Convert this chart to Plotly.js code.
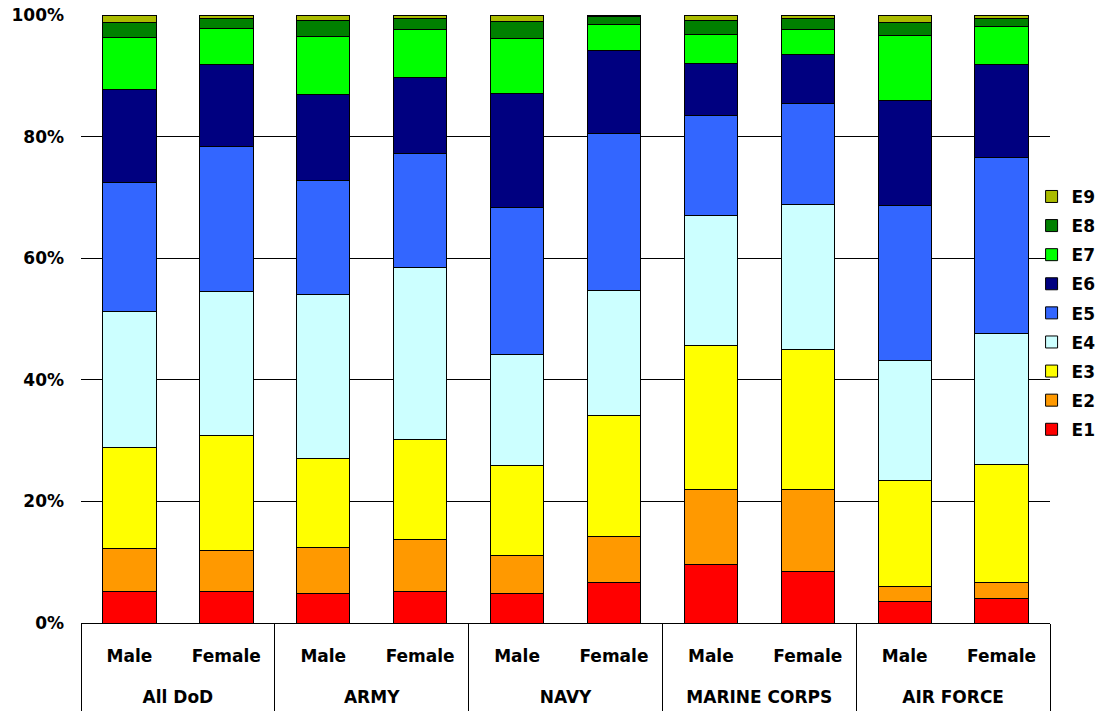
<!DOCTYPE html>
<html>
<head>
<meta charset="utf-8">
<script src="https://cdn.plot.ly/plotly-3.0.1.min.js"></script>
<style>html,body{margin:0;padding:0;background:#fff;}</style>
</head>
<body>
<div id="chart" style="width:1118px;height:711px;"></div>
<script>
// Categories
const groups = ["All DoD","All DoD","ARMY","ARMY","NAVY","NAVY","MARINE CORPS","MARINE CORPS","AIR FORCE","AIR FORCE"];
const sexes  = ["Male","Female","Male","Female","Male","Female","Male","Female","Male","Female"];
const seriesNames = ["E1","E2","E3","E4","E5","E6","E7","E8","E9"];
const yTickVals = [0,20,40,60,80,100];
const yTickText = ["0%","20%","40%","60%","80%","100%"];

// Percent of enlisted personnel by pay grade (order follows categories)
const E1 = [5.1, 5.1, 4.8, 5.1, 4.9, 6.7, 9.7, 8.5, 3.6, 4.0];
const E2 = [7.2, 6.8, 7.7, 8.7, 6.2, 7.6, 12.3, 13.5, 2.4, 2.6];
const E3 = [16.5, 18.9, 14.5, 16.3, 14.8, 19.8, 23.6, 23.0, 17.4, 19.5];
const E4 = [22.5, 23.7, 27.0, 28.4, 18.2, 20.6, 21.4, 23.9, 19.8, 21.5];
const E5 = [21.2, 23.9, 18.7, 18.8, 24.3, 25.8, 16.5, 16.6, 25.5, 29.0];
const E6 = [15.2, 13.4, 14.3, 12.5, 18.7, 13.6, 8.6, 8.0, 17.2, 15.2];
const E7 = [8.6, 6.0, 9.4, 7.8, 9.1, 4.4, 4.7, 4.1, 10.8, 6.3];
const E8 = [2.5, 1.6, 2.7, 1.9, 2.7, 1.2, 2.3, 1.8, 2.1, 1.3];
const E9 = [1.2, 0.6, 0.9, 0.5, 1.1, 0.3, 0.9, 0.6, 1.2, 0.6];

const seriesValues = [E1,E2,E3,E4,E5,E6,E7,E8,E9];
const colors = ["#FF0000","#FF9900","#FFFF00","#CCFFFF","#3366FF","#000080","#00FF00","#008000","#AABB00"];

const FONT = {family: "DejaVu Sans, Arial, sans-serif", size: 17, color: "#000", weight: "bold"};

// second-level labels carry leading line breaks to sit lower, as in the original
const groupLabels = groups.map(g => "<br><br>" + g);

const traces = seriesNames.map((n, i) => ({
  type: "bar",
  name: n,
  legendgroup: n,
  legendrank: 100 - i,
  x: [groupLabels, sexes],
  y: seriesValues[i],
  marker: {color: colors[i], line: {color: "#000", width: 1}},
  hoverinfo: "name+y"
}));

const layout = {
  width: 1118, height: 711,
  margin: {l: 81, r: 68, t: 15, b: 88},
  paper_bgcolor: "#fff", plot_bgcolor: "#fff",
  barmode: "stack",
  bargap: 0.45,
  font: FONT,
  showlegend: true,
  legend: {
    x: 0.981, xanchor: "left", y: 0.51, yanchor: "middle",
    traceorder: "grouped", tracegroupgap: 4,
    font: FONT, bgcolor: "rgba(0,0,0,0)", itemwidth: 30
  },
  xaxis: {
    type: "multicategory",
    showline: true, linecolor: "#000", linewidth: 1,
    showdividers: true, dividercolor: "#000", dividerwidth: 1,
    ticks: "", tickfont: FONT, showgrid: false,
    ticklabelstandoff: 18
  },
  yaxis: {
    range: [0, 100], tickvals: yTickVals, ticktext: yTickText,
    showgrid: true, gridcolor: "#000", gridwidth: 1,
    zeroline: false, showline: false, ticks: "",
    ticklabelstandoff: 16, tickfont: FONT, fixedrange: true
  }
};

Plotly.newPlot("chart", traces, layout, {displayModeBar: false, staticPlot: true}).then(gd => {
  // nudge the group-name row up slightly so it sits fully inside the picture
  gd.querySelectorAll("g.xtick2").forEach(g => {
    const t = g.getAttribute("transform") || "";
    g.setAttribute("transform", (t + " translate(0,-8)").trim());
  });
});
</script>
</body>
</html>
